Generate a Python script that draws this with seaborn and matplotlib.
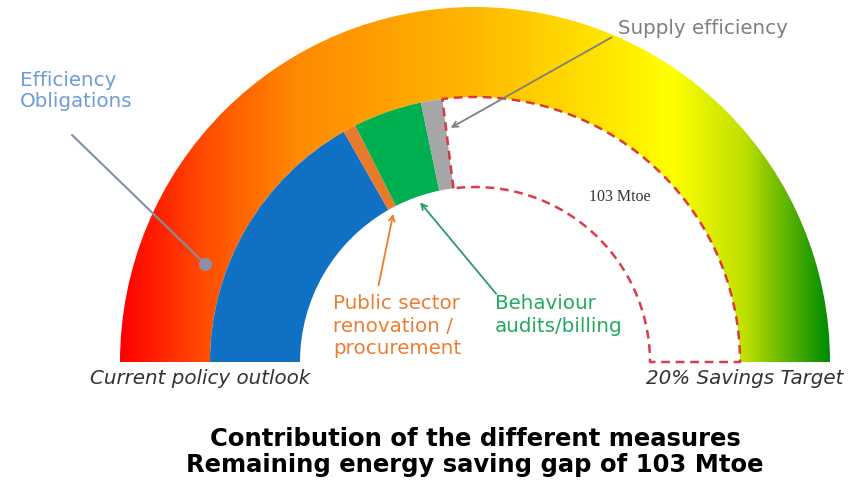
import numpy as np
import matplotlib
matplotlib.use("Agg")
import matplotlib.pyplot as plt
from matplotlib.patches import Wedge
from matplotlib.colors import LinearSegmentedColormap
import seaborn as sns

# contributions in Mtoe, left to right along the gauge
measures = ["Efficiency Obligations", "Public sector renovation / procurement",
            "Behaviour audits/billing", "Supply efficiency"]
savings = [64, 3, 16, 5]
gap = 103
seg_colors = ["#1070C4", "#E87A2A", "#00B050", "#A6A6A6"]

# gradient of the outer band (left -> right)
grad_stops = [0.0, 0.12, 0.25, 0.5, 0.66, 0.78, 0.88, 1.0]
grad_colors = ["#FF0000", "#FF4E00", "#FF8A00", "#FFB800", "#FFE000", "#FFFF00", "#C0E000", "#008C00"]

sns.set_style("white")
plt.rcParams['font.family'] = ['DejaVu Sans']

CX, CY, R = 475, 362, 355   # gauge centre and radius in pixels


def P(x, y):
    # pixel position in the picture -> data coordinates
    return ((x - CX) / R, (CY - y) / R)


fig = plt.figure(figsize=(8.61, 4.87), dpi=100)
ax = fig.add_axes([0, 0, 1, 1])
ax.set_xlim(-CX / R, (861 - CX) / R)
ax.set_ylim((CY - 487) / R, CY / R)
ax.axis("off")

r_in, r_mid, r_out = 175 / R, 265 / R, 1.0
total = sum(savings) + gap

# outer band with horizontal gradient
band = Wedge((0, 0), r_out, 0, 180, width=r_out - r_mid, facecolor="none", edgecolor="none")
ax.add_patch(band)
cmap = LinearSegmentedColormap.from_list("gauge", list(zip(grad_stops, grad_colors)))
im = ax.imshow(np.linspace(0, 1, 512)[None, :], cmap=cmap, aspect="auto",
               extent=(-r_out, r_out, 0, r_out), zorder=1)
im.set_clip_path(band)

# inner band segments
start = 180.0
ends = []
for val, col in zip(savings, seg_colors):
    span = val / total * 180
    ax.add_patch(Wedge((0, 0), r_mid, start - span, start, width=r_mid - r_in,
                       facecolor=col, edgecolor="none", zorder=2))
    ends.append((start, start - span))
    start -= span
gap_start = start

# dashed outline of the remaining gap
t1 = np.radians(np.linspace(gap_start, 0, 200))
t2 = t1[::-1]
xs = np.concatenate([[r_in * np.cos(t1[0])], r_mid * np.cos(t1), r_in * np.cos(t2)])
ys = np.concatenate([[r_in * np.sin(t1[0])], r_mid * np.sin(t1), r_in * np.sin(t2)])
ax.plot(xs, ys, color="#D62839", lw=1.8, ls=(0, (3.5, 2.3)), alpha=0.9, zorder=3)

ax.text(*P(620, 197), f"{gap} Mtoe", fontsize=11.5, color="#333333",
        ha="center", va="center", family="Liberation Serif", zorder=4)


def polar(r, deg):
    return (r * np.cos(np.radians(deg)), r * np.sin(np.radians(deg)))


# labels and pointers
lab_fs = 14.3
ax.text(*P(20, 91), "Efficiency\nObligations", fontsize=lab_fs, color="#6F9BD6",
        ha="left", va="center", linespacing=1.17, zorder=4)
dot = polar(0.81, 160)
ax.annotate("", xy=dot, xytext=P(70, 133),
            arrowprops=dict(arrowstyle="-", color="#8090A8", lw=1.5), zorder=4)
ax.scatter([dot[0]], [dot[1]], s=70, color="#8C8FA8", zorder=5)

ax.text(*P(333, 326), "Public sector\nrenovation /\nprocurement", fontsize=lab_fs,
        color="#ED7D31", ha="left", va="center", linespacing=1.22, zorder=4)
o_mid = (ends[1][0] + ends[1][1]) / 2
ax.annotate("", xy=polar(r_in - 0.01, o_mid), xytext=P(378, 288),
            arrowprops=dict(arrowstyle="->", color="#ED7D31", lw=1.3), zorder=4)

ax.text(*P(495, 315), "Behaviour\naudits/billing", fontsize=lab_fs, color="#22AA60",
        ha="left", va="center", linespacing=1.22, zorder=4)
g_mid = (ends[2][0] + ends[2][1]) / 2
ax.annotate("", xy=polar(r_in - 0.01, g_mid), xytext=P(498, 296),
            arrowprops=dict(arrowstyle="->", color="#2E9A6A", lw=1.3), zorder=4)

ax.text(*P(618, 28), "Supply efficiency", fontsize=lab_fs, color="#7F7F7F",
        ha="left", va="center", zorder=4)
ax.annotate("", xy=polar(0.66, gap_start - 0.5), xytext=P(614, 36),
            arrowprops=dict(arrowstyle="->", color="#7F7F7F", lw=1.3), zorder=4)

ax.text(*P(90, 378), "Current policy outlook", fontsize=14.3, style="italic",
        color="#333333", ha="left", va="center")
ax.text(*P(843, 378), "20% Savings Target", fontsize=14.3, style="italic",
        color="#333333", ha="right", va="center")

ax.text(*P(475, 452), "Contribution of the different measures\nRemaining energy saving gap of 103 Mtoe",
        fontsize=17.5, fontweight="bold", color="black", ha="center", va="center",
        linespacing=1.15)

fig.savefig("out.png", dpi=100)
